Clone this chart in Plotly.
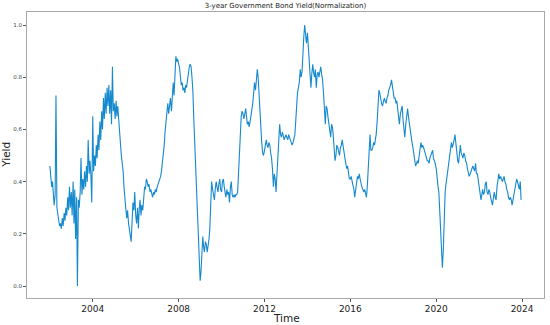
import pandas as pd
import plotly.graph_objects as go

# Normalized 3-year government bond yield, read semi-monthly per year (24 values each)
y2002 = [0.46, 0.42, 0.38, 0.40, 0.36, 0.31, 0.35, 0.73, 0.30, 0.27, 0.25, 0.23,
         0.24, 0.22, 0.26, 0.23, 0.28, 0.25, 0.30, 0.27, 0.34, 0.29, 0.38, 0.30]
y2003 = [0.36, 0.27, 0.40, 0.24, 0.37, 0.18, 0.34, 0.00, 0.33, 0.30, 0.36, 0.49,
         0.35, 0.41, 0.37, 0.44, 0.38, 0.46, 0.40, 0.56, 0.43, 0.48, 0.42, 0.32]
y2004 = [0.65, 0.44, 0.50, 0.46, 0.54, 0.49, 0.58, 0.52, 0.63, 0.56, 0.67, 0.60,
         0.72, 0.64, 0.74, 0.66, 0.76, 0.69, 0.77, 0.66, 0.75, 0.62, 0.84, 0.67]
y2005 = [0.70, 0.64, 0.71, 0.65, 0.69, 0.63, 0.60, 0.55, 0.50, 0.47, 0.44, 0.38,
         0.35, 0.30, 0.26, 0.29, 0.24, 0.22, 0.20, 0.17, 0.25, 0.32, 0.29, 0.36]
y2006 = [0.27, 0.24, 0.30, 0.22, 0.29, 0.33, 0.27, 0.31, 0.29, 0.34, 0.38, 0.37,
         0.41, 0.40, 0.38, 0.39, 0.36, 0.37, 0.35, 0.34, 0.36, 0.35, 0.37, 0.36]
y2007 = [0.38, 0.39, 0.40, 0.41, 0.42, 0.44, 0.47, 0.50, 0.54, 0.59, 0.63, 0.69,
         0.70, 0.66, 0.71, 0.72, 0.67, 0.75, 0.78, 0.73, 0.80, 0.88, 0.86, 0.87]
y2008 = [0.85, 0.84, 0.80, 0.77, 0.78, 0.75, 0.76, 0.74, 0.77, 0.76, 0.79, 0.82,
         0.84, 0.85, 0.84, 0.80, 0.74, 0.64, 0.55, 0.44, 0.36, 0.30, 0.22, 0.08]
y2009 = [0.02, 0.05, 0.12, 0.19, 0.15, 0.13, 0.17, 0.16, 0.13, 0.15, 0.18, 0.22,
         0.30, 0.40, 0.37, 0.35, 0.33, 0.37, 0.40, 0.38, 0.36, 0.39, 0.41, 0.37]
y2010 = [0.36, 0.40, 0.41, 0.38, 0.36, 0.34, 0.37, 0.35, 0.36, 0.32, 0.38, 0.40,
         0.35, 0.34, 0.35, 0.34, 0.35, 0.35, 0.36, 0.43, 0.52, 0.62, 0.65, 0.67]
y2011 = [0.66, 0.64, 0.66, 0.68, 0.65, 0.62, 0.63, 0.61, 0.63, 0.65, 0.67, 0.70,
         0.74, 0.78, 0.75, 0.79, 0.83, 0.80, 0.72, 0.66, 0.59, 0.55, 0.51, 0.50]
y2012 = [0.52, 0.54, 0.56, 0.54, 0.53, 0.55, 0.54, 0.51, 0.49, 0.45, 0.38, 0.43,
         0.41, 0.36, 0.42, 0.48, 0.56, 0.62, 0.58, 0.57, 0.59, 0.58, 0.56, 0.57]
y2013 = [0.58, 0.57, 0.56, 0.58, 0.57, 0.56, 0.55, 0.54, 0.55, 0.56, 0.58, 0.63,
         0.72, 0.74, 0.76, 0.78, 0.83, 0.80, 0.82, 0.90, 0.96, 1.00, 0.95, 0.93]
y2014 = [0.97, 0.92, 0.85, 0.80, 0.76, 0.81, 0.85, 0.82, 0.80, 0.83, 0.76, 0.81,
         0.82, 0.80, 0.83, 0.84, 0.81, 0.79, 0.74, 0.70, 0.62, 0.69, 0.68, 0.65]
y2015 = [0.62, 0.58, 0.57, 0.62, 0.61, 0.58, 0.54, 0.48, 0.50, 0.54, 0.53, 0.52,
         0.50, 0.53, 0.54, 0.56, 0.53, 0.50, 0.49, 0.47, 0.45, 0.46, 0.43, 0.41]
y2016 = [0.41, 0.42, 0.40, 0.39, 0.37, 0.34, 0.37, 0.40, 0.42, 0.41, 0.43, 0.41,
         0.39, 0.38, 0.37, 0.36, 0.37, 0.35, 0.34, 0.38, 0.45, 0.50, 0.58, 0.52]
y2017 = [0.52, 0.53, 0.55, 0.54, 0.56, 0.58, 0.63, 0.68, 0.75, 0.74, 0.71, 0.70,
         0.69, 0.70, 0.72, 0.71, 0.70, 0.72, 0.73, 0.75, 0.76, 0.77, 0.79, 0.76]
y2018 = [0.73, 0.72, 0.72, 0.70, 0.71, 0.68, 0.64, 0.62, 0.66, 0.68, 0.69, 0.64,
         0.61, 0.57, 0.62, 0.66, 0.68, 0.65, 0.62, 0.60, 0.58, 0.55, 0.53, 0.50]
y2019 = [0.49, 0.46, 0.47, 0.48, 0.47, 0.50, 0.53, 0.55, 0.53, 0.54, 0.53, 0.52,
         0.50, 0.49, 0.48, 0.48, 0.47, 0.49, 0.50, 0.51, 0.52, 0.49, 0.48, 0.47]
y2020 = [0.45, 0.41, 0.38, 0.36, 0.30, 0.23, 0.15, 0.07, 0.14, 0.28, 0.36, 0.39,
         0.41, 0.44, 0.47, 0.50, 0.52, 0.55, 0.53, 0.54, 0.56, 0.58, 0.54, 0.51]
y2021 = [0.48, 0.47, 0.52, 0.54, 0.51, 0.50, 0.49, 0.51, 0.50, 0.48, 0.47, 0.45,
         0.43, 0.42, 0.43, 0.44, 0.45, 0.46, 0.45, 0.44, 0.47, 0.43, 0.43, 0.41]
y2022 = [0.39, 0.36, 0.33, 0.35, 0.37, 0.35, 0.36, 0.39, 0.40, 0.36, 0.35, 0.37,
         0.36, 0.34, 0.32, 0.31, 0.34, 0.36, 0.34, 0.33, 0.38, 0.42, 0.43, 0.41]
y2023 = [0.42, 0.41, 0.40, 0.41, 0.42, 0.40, 0.39, 0.37, 0.36, 0.34, 0.33, 0.34,
         0.33, 0.31, 0.33, 0.35, 0.37, 0.39, 0.41, 0.40, 0.38, 0.37, 0.40, 0.33]

yearly = [y2002, y2003, y2004, y2005, y2006, y2007, y2008, y2009, y2010, y2011, y2012,
          y2013, y2014, y2015, y2016, y2017, y2018, y2019, y2020, y2021, y2022, y2023]
values = [v for yr in yearly for v in yr]
dates = pd.date_range("2002-01-01", periods=len(values), freq="SMS")

tick_years = ["2004", "2008", "2012", "2016", "2020", "2024"]
y_ticks = [0.0, 0.2, 0.4, 0.6, 0.8, 1.0]

fig = go.Figure()
fig.add_trace(go.Scatter(x=dates, y=values, mode="lines",
                         line=dict(color="#1589cd", width=1.1), showlegend=False))

axis_common = dict(showgrid=False, zeroline=False, showline=True, mirror=True,
                   linecolor="#a8a8a8", linewidth=1, ticks="outside", ticklen=3,
                   tickcolor="#555555", automargin=False)

fig.update_layout(
    width=550, height=325,
    margin=dict(l=27, r=6, t=12, b=27),
    paper_bgcolor="white", plot_bgcolor="white",
    font=dict(family="DejaVu Sans", color="#222222"),
    title=dict(text="3-year Government Bond Yield(Normalization)", x=0.519, xanchor="center",
               y=0.982, yanchor="middle", font=dict(size=7, family="DejaVu Sans", color="#222222")),
    xaxis=dict(range=["2000-12-08", "2025-01-08"], tickvals=[f"{t}-01-01" for t in tick_years],
               ticktext=tick_years, tickfont=dict(size=9), ticklabelstandoff=-1, **axis_common),
    yaxis=dict(range=[-0.046, 1.05], tickvals=y_ticks, tickformat=".1f",
               tickfont=dict(size=5.5, color="#444444"), **axis_common),
    annotations=[
        dict(text="Time", xref="paper", yref="paper", x=0.501, y=-0.071, xanchor="center",
             yanchor="middle", showarrow=False, font=dict(size=10.5, color="#222222")),
        dict(text="Yield", xref="paper", yref="paper", x=-0.041, y=0.5, xanchor="center",
             yanchor="middle", textangle=-90, showarrow=False, font=dict(size=10.5, color="#222222")),
    ],
)

fig.write_html("out.html", config={"displayModeBar": False},
               post_script="document.body.style.margin='0';")
